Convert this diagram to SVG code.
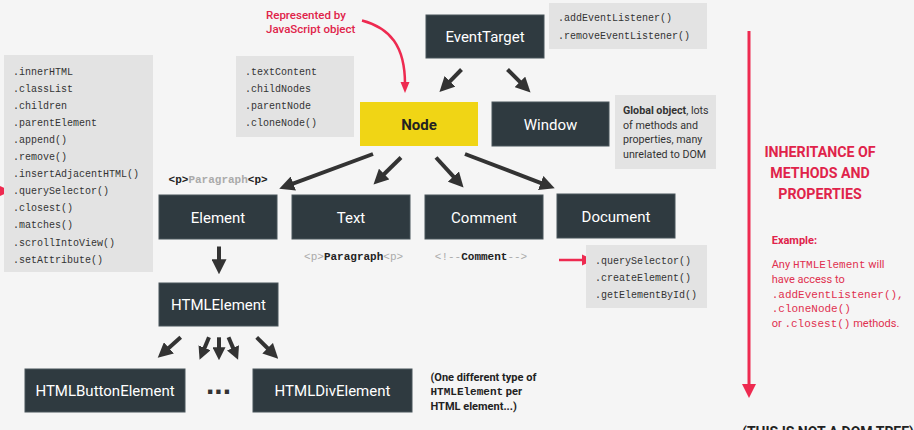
<svg xmlns="http://www.w3.org/2000/svg" width="914" height="430" viewBox="0 0 914 430">
<defs>
<style>
.bg{fill:#f5f5f5}
.box{fill:#2f3a40;stroke:#49545a;stroke-width:1}
.yel{fill:#f0d515}
.note{fill:#e3e3e3}
.lbl{font-family:Roboto,"Liberation Sans",sans-serif;font-size:15px;font-weight:400;fill:#ffffff;text-anchor:middle}
.code{font-family:"Liberation Mono","DejaVu Sans Mono",monospace;font-size:10px;fill:#333}
.code11{font-family:"Liberation Mono","DejaVu Sans Mono",monospace;font-size:11px}
.sans{font-family:Roboto,"Liberation Sans",sans-serif}
.conn{stroke:#333;stroke-width:4;fill:none}
.red{fill:#e0234a}
.redl{stroke:#ee2a50;fill:none}
</style>
<marker id="ah" viewBox="0 0 14 14" markerUnits="userSpaceOnUse" markerWidth="15" markerHeight="15" refX="3" refY="7" orient="auto">
<path d="M0,0 L14,7 L0,14 z" fill="#333"/>
</marker>
<marker id="ahs" viewBox="0 0 14 14" markerUnits="userSpaceOnUse" markerWidth="13" markerHeight="13" refX="3" refY="7" orient="auto">
<path d="M0,0 L14,7 L0,14 z" fill="#333"/>
</marker>
</defs>
<rect class="bg" x="0" y="0" width="914" height="430"/>

<g id="connectors">
<line class="conn" x1="461.5" y1="69.5" x2="447.7" y2="83.6" marker-end="url(#ah)"/>
<line class="conn" x1="507.5" y1="69.5" x2="522.2" y2="84.2" marker-end="url(#ah)"/>
<line class="conn" x1="373" y1="154" x2="290.3" y2="184.7" marker-end="url(#ah)"/>
<line class="conn" x1="401" y1="157.5" x2="381.9" y2="176.3" marker-end="url(#ah)"/>
<line class="conn" x1="436" y1="157.5" x2="455.6" y2="178.9" marker-end="url(#ah)"/>
<line class="conn" x1="465" y1="154" x2="543.7" y2="184.1" marker-end="url(#ah)"/>
<line class="conn" x1="219" y1="246.5" x2="219" y2="262.5" marker-end="url(#ah)"/>
<line class="conn" x1="180.7" y1="337.3" x2="166.5" y2="350" marker-end="url(#ah)"/>
<line class="conn" x1="209" y1="337.3" x2="203.5" y2="350.4" marker-end="url(#ahs)"/>
<line class="conn" x1="219" y1="337.3" x2="219" y2="350" marker-end="url(#ahs)"/>
<line class="conn" x1="228.5" y1="337.3" x2="234.1" y2="350.4" marker-end="url(#ahs)"/>
<line class="conn" x1="256.7" y1="337.3" x2="269.9" y2="350.5" marker-end="url(#ah)"/>
<!-- red annotation arrows -->
<path class="redl" stroke-width="2.5" d="M362,20.5 C390,28 405,46 405,84"/>
<polygon fill="#ee2a50" points="400.5,82 409.5,82 405,93"/>
<line class="redl" stroke-width="2.5" x1="559" y1="260" x2="584" y2="260"/>
<polygon fill="#ee2a50" points="582,254.5 594,260 582,265.5"/>
<line class="redl" stroke-width="2.5" x1="0" y1="191" x2="4" y2="191"/>
<polygon fill="#ee2a50" points="0,186 11,191 0,196"/>
<line class="redl" stroke-width="3" x1="749" y1="31" x2="749" y2="386"/>
<polygon fill="#ee2a50" points="742,384 756,384 749,398"/>
</g>

<g id="elementProps">
<rect class="note" x="4" y="55" width="149" height="217"/>
<text class="code" x="13" y="74.5">.innerHTML</text>
<text class="code" x="13" y="91.6">.classList</text>
<text class="code" x="13" y="108.7">.children</text>
<text class="code" x="13" y="125.8">.parentElement</text>
<text class="code" x="13" y="142.9">.append()</text>
<text class="code" x="13" y="160">.remove()</text>
<text class="code" x="13" y="177.1">.insertAdjacentHTML()</text>
<text class="code" x="13" y="194.2">.querySelector()</text>
<text class="code" x="13" y="211.3">.closest()</text>
<text class="code" x="13" y="228.4">.matches()</text>
<text class="code" x="13" y="245.5">.scrollIntoView()</text>
<text class="code" x="13" y="262.6">.setAttribute()</text>
</g>

<g id="nodeProps">
<rect class="note" x="236" y="56" width="118" height="81"/>
<text class="code" x="245" y="74.5">.textContent</text>
<text class="code" x="245" y="91.8">.childNodes</text>
<text class="code" x="245" y="109.1">.parentNode</text>
<text class="code" x="245" y="126.4">.cloneNode()</text>
</g>

<g id="representedNote">
<text class="sans" x="266" y="18.5" font-size="11.5" font-weight="500" fill="#e0234a">Represented by</text>
<text class="sans" x="266" y="32.5" font-size="11.5" font-weight="500" fill="#e0234a">JavaScript object</text>
</g>

<g id="eventTarget">
<rect class="box" x="426" y="15" width="118" height="43"/>
<text class="lbl" x="485" y="42">EventTarget</text>
</g>

<g id="eventTargetProps">
<rect class="note" x="549" y="3" width="158" height="46"/>
<text class="code" x="558" y="21">.addEventListener()</text>
<text class="code" x="558" y="38.5">.removeEventListener()</text>
</g>

<g id="node">
<rect class="yel" x="360" y="102" width="118" height="44"/>
<text class="lbl" x="419" y="129.5" font-weight="700" style="fill:#222;font-weight:700">Node</text>
</g>

<g id="window">
<rect class="box" x="492" y="102" width="117" height="44"/>
<text class="lbl" x="550.5" y="129.5">Window</text>
</g>

<g id="windowNote">
<rect class="note" x="615" y="95" width="101" height="74"/>
<text class="sans" x="623" y="114" font-size="10.7" fill="#333"><tspan font-weight="700">Global object</tspan>, lots</text>
<text class="sans" x="623" y="128.7" font-size="10.7" fill="#333">of methods and</text>
<text class="sans" x="623" y="143.4" font-size="10.7" fill="#333">properties, many</text>
<text class="sans" x="623" y="158.1" font-size="10.7" fill="#333">unrelated to DOM</text>
</g>

<g id="paragraphTag">
<text class="code11" x="168.6" y="183" font-weight="700" fill="#222">&lt;p&gt;<tspan fill="#aaa">Paragraph</tspan>&lt;p&gt;</text>
</g>

<g id="element">
<rect class="box" x="159" y="195" width="118" height="44"/>
<text class="lbl" x="218" y="222.5">Element</text>
</g>

<g id="text">
<rect class="box" x="292" y="195" width="118" height="44"/>
<text class="lbl" x="351" y="222.5">Text</text>
<text class="code11" x="353.6" y="259.5" text-anchor="middle" fill="#aaa">&lt;p&gt;<tspan font-weight="700" fill="#222">Paragraph</tspan>&lt;p&gt;</text>
</g>

<g id="comment">
<rect class="box" x="425" y="195" width="118" height="44"/>
<text class="lbl" x="484" y="222.5">Comment</text>
<text class="code11" x="481" y="259.5" text-anchor="middle" fill="#aaa">&lt;!--<tspan font-weight="700" fill="#222">Comment</tspan>--&gt;</text>
</g>

<g id="document">
<rect class="box" x="557" y="194" width="118" height="44"/>
<text class="lbl" x="616" y="221.5">Document</text>
</g>

<g id="documentProps">
<rect class="note" x="586" y="245" width="121" height="63"/>
<text class="code" x="595" y="263.5">.querySelector()</text>
<text class="code" x="595" y="280.5">.createElement()</text>
<text class="code" x="595" y="297.5">.getElementById()</text>
</g>

<g id="htmlElement">
<rect class="box" x="159" y="283" width="119" height="43"/>
<text class="lbl" x="218.5" y="310">HTMLElement</text>
</g>

<g id="htmlButtonElement">
<rect class="box" x="25" y="369" width="160" height="43"/>
<text class="lbl" x="105" y="396">HTMLButtonElement</text>
</g>

<g id="ellipsis">
<text x="206" y="393.5" font-family="'Liberation Sans',sans-serif" font-size="30" font-weight="700" fill="#333">...</text>
</g>

<g id="htmlDivElement">
<rect class="box" x="253" y="369" width="159" height="43"/>
<text class="lbl" x="332.5" y="396">HTMLDivElement</text>
</g>

<g id="htmlNote">
<text class="sans" x="430.5" y="380.5" font-size="11" font-weight="700" fill="#222">(One different type of</text>
<text x="430.5" y="395.2" font-size="11" font-weight="700" fill="#222"><tspan class="code11">HTMLElement</tspan><tspan class="sans"> per</tspan></text>
<text class="sans" x="430.5" y="409.9" font-size="11" font-weight="700" fill="#222">HTML element...)</text>
</g>

<g id="inheritance">
<text class="sans red" x="820" y="157" font-size="14.2" font-weight="700" text-anchor="middle">INHERITANCE OF</text>
<text class="sans red" x="820" y="178" font-size="14.2" font-weight="700" text-anchor="middle">METHODS AND</text>
<text class="sans red" x="820" y="199" font-size="14.2" font-weight="700" text-anchor="middle">PROPERTIES</text>
<text class="sans red" x="771.7" y="244" font-size="11" font-weight="700">Example:</text>
<text class="sans" x="771.7" y="268" font-size="11" fill="#e0304f">Any <tspan class="code11">HTMLElement</tspan> will</text>
<text class="sans" x="771.7" y="282.8" font-size="11" fill="#e0304f">have access to</text>
<text class="code11" x="771.7" y="297.6" fill="#e0304f">.addEventListener(),</text>
<text class="code11" x="771.7" y="312.4" fill="#e0304f">.cloneNode()</text>
<text class="sans" x="771.7" y="327.2" font-size="11" fill="#e0304f">or <tspan class="code11">.closest()</tspan> methods.</text>
</g>

<g id="footnote">
<text class="sans" x="742" y="437" font-size="14" font-weight="700" fill="#222">(THIS IS NOT A DOM TREE)</text>
</g>
</svg>
